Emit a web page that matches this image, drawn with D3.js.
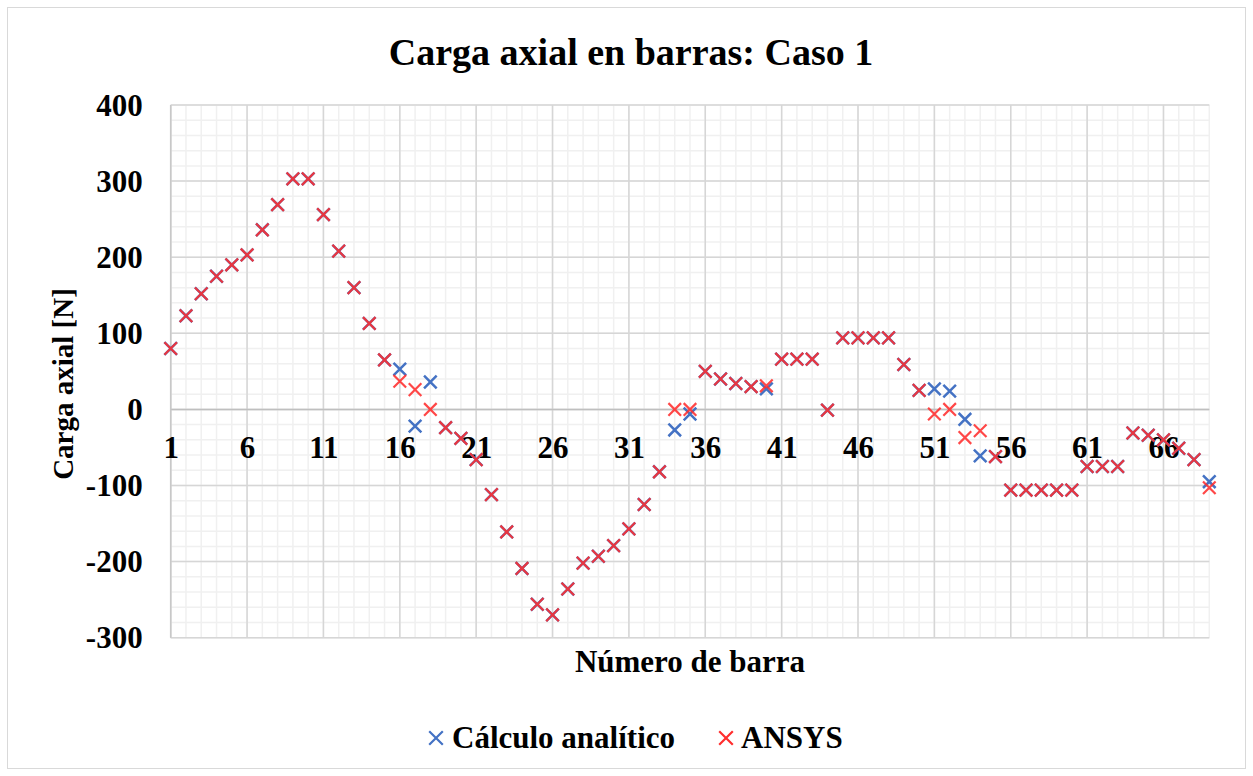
<!DOCTYPE html>
<html>
<head>
<meta charset="utf-8">
<script src="https://cdn.jsdelivr.net/npm/d3@7"></script>
<style>
  html, body { margin: 0; padding: 0; background: #fff; }
  svg text { font-family: "Liberation Serif", "Times New Roman", serif; font-weight: bold; fill: #000; }
</style>
</head>
<body>
<svg id="chart" width="1253" height="776"></svg>
<script>
// Bar numbers 1..69
const barras = d3.range(1, 70);

// Axial load per bar [N], analytic calculation
const calculoAnalitico = [
  80, 123, 152, 175, 190, 203, 236, 269, 303, 303,
  256, 208, 160, 113, 65, 53, -22, 36, -24, -38,
  -66, -112, -161, -209, -256, -270, -236, -202, -193, -179,
  -157, -125, -82, -27, -6, 50, 40, 34, 30, 27,
  66, 66, 66, -1, 94, 94, 94, 94, 59, 25,
  27, 24, -13, -61, -62, -106, -106, -106, -106, -106,
  -75, -75, -75, -31, -34, -40, -51, -66, -95
];

// Axial load per bar [N], ANSYS results
const ansys = [
  80, 123, 152, 175, 190, 203, 236, 269, 303, 303,
  256, 208, 160, 113, 65, 37, 26, 0, -24, -38,
  -66, -112, -161, -209, -256, -270, -236, -202, -193, -179,
  -157, -125, -82, 0, 0, 50, 40, 34, 30, 31,
  66, 66, 66, -1, 94, 94, 94, 94, 59, 25,
  -6, 0, -37, -28, -62, -106, -106, -106, -106, -106,
  -75, -75, -75, -31, -34, -40, -51, -66, -103
];

const yTicks = [-300, -200, -100, 0, 100, 200, 300, 400];
const xTicks = [1, 6, 11, 16, 21, 26, 31, 36, 41, 46, 51, 56, 61, 66];

const svg = d3.select("#chart");

// outer chart border
svg.append("rect")
  .attr("x", 7.5).attr("y", 7.5).attr("width", 1238).attr("height", 761)
  .attr("fill", "#fff").attr("stroke", "#d9d9d9").attr("stroke-width", 1);

const x = d3.scaleLinear().domain([1, 69]).range([170.7, 1209.3]);
const y = d3.scaleLinear().domain([-300, 400]).range([637.7, 105]);

// minor gridlines
const grid = svg.append("g");
grid.selectAll("line.minx").data(d3.range(1, 70)).join("line")
  .attr("x1", d => x(d)).attr("x2", d => x(d))
  .attr("y1", y(400)).attr("y2", y(-300))
  .attr("stroke", "#f0f0f0").attr("stroke-width", 1.5);
grid.selectAll("line.miny").data(d3.range(-300, 401, 20)).join("line")
  .attr("x1", x(1)).attr("x2", x(69))
  .attr("y1", d => y(d)).attr("y2", d => y(d))
  .attr("stroke", "#f0f0f0").attr("stroke-width", 1.5);

// major gridlines
grid.selectAll("line.majx").data(xTicks).join("line")
  .attr("x1", d => x(d)).attr("x2", d => x(d))
  .attr("y1", y(400)).attr("y2", y(-300))
  .attr("stroke", "#d6d6d6").attr("stroke-width", 1.5);
grid.selectAll("line.majy").data(yTicks).join("line")
  .attr("x1", x(1)).attr("x2", x(69))
  .attr("y1", d => y(d)).attr("y2", d => y(d))
  .attr("stroke", "#d6d6d6").attr("stroke-width", 1.5);

// axis lines
svg.append("line")
  .attr("x1", x(1)).attr("x2", x(69)).attr("y1", y(0)).attr("y2", y(0))
  .attr("stroke", "#bfbfbf").attr("stroke-width", 1.5);
svg.append("line")
  .attr("x1", x(1)).attr("x2", x(1)).attr("y1", y(400)).attr("y2", y(-300))
  .attr("stroke", "#c8c8c8").attr("stroke-width", 1.5);

// y axis labels (plain hyphen for negatives)
const yAxis = d3.axisLeft(y).tickValues(yTicks).tickSize(0).tickPadding(28)
  .tickFormat(d => String(d));
const gy = svg.append("g").attr("transform", `translate(${x(1)},0)`).call(yAxis);
gy.select(".domain").remove();
gy.selectAll("text").attr("font-size", 31).attr("dy", "0.33em")
  .style("font-family", "Liberation Serif, serif").style("font-weight", "bold").attr("fill", "#000");

// x axis labels, placed next to the zero line
const xAxis = d3.axisBottom(x).tickValues(xTicks).tickSize(0).tickPadding(0)
  .tickFormat(d => String(d));
const gx = svg.append("g").attr("transform", `translate(0,${y(0)})`).call(xAxis);
gx.select(".domain").remove();
gx.selectAll("text").attr("font-size", 31).attr("y", 49).attr("dy", 0)
  .style("font-family", "Liberation Serif, serif").style("font-weight", "bold").attr("fill", "#000");

// cross marker path
function cross(cx, cy, r) {
  return `M${cx - r},${cy - r}L${cx + r},${cy + r}M${cx - r},${cy + r}L${cx + r},${cy - r}`;
}

const blue = "#4472c4";
const red = "#ff2e2e";

svg.append("g").selectAll("path").data(barras).join("path")
  .attr("d", (d, i) => cross(x(d), y(calculoAnalitico[i]), 6.3))
  .attr("stroke", blue).attr("stroke-width", 2.5).attr("fill", "none");

svg.append("g").selectAll("path").data(barras).join("path")
  .attr("d", (d, i) => cross(x(d), y(ansys[i]), 6.3))
  .attr("stroke", red).attr("stroke-opacity", 0.88).attr("stroke-width", 2.2).attr("fill", "none");

// title
svg.append("text").attr("x", 631).attr("y", 65).attr("text-anchor", "middle")
  .attr("font-size", 38).text("Carga axial en barras: Caso 1");

// axis titles
svg.append("text").attr("x", 690).attr("y", 672).attr("text-anchor", "middle")
  .attr("font-size", 31).text("Número de barra");
svg.append("text").attr("transform", "translate(73,384) rotate(-90)").attr("text-anchor", "middle")
  .attr("font-size", 29).text("Carga axial [N]");

// legend
const legend = [
  { name: "Cálculo analítico", color: blue, mx: 436, tx: 452 },
  { name: "ANSYS", color: red, mx: 726, tx: 741 }
];
const lg = svg.append("g");
lg.selectAll("path").data(legend).join("path")
  .attr("d", d => cross(d.mx, 738, 6.8))
  .attr("stroke", d => d.color).attr("stroke-width", 2.2).attr("fill", "none");
lg.selectAll("text").data(legend).join("text")
  .attr("x", d => d.tx).attr("y", 748).attr("font-size", 31).text(d => d.name);
</script>
</body>
</html>
